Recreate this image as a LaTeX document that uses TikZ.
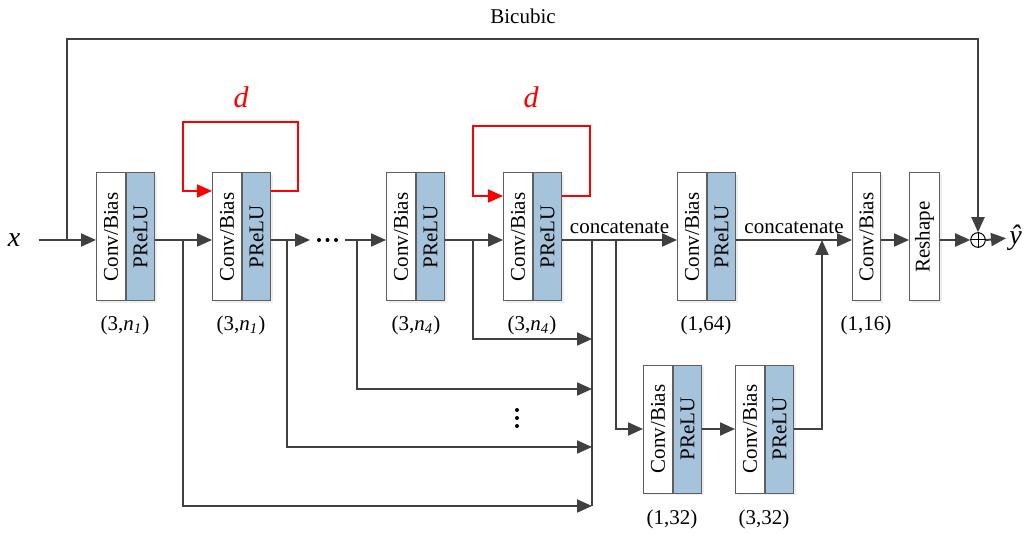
\documentclass[tikz,border=0pt]{standalone}
\usepackage{fontspec}
\setmainfont{Liberation Serif}
\usetikzlibrary{arrows.meta,shadows,calc}

\definecolor{linegray}{RGB}{64,64,64}
\definecolor{boxgray}{RGB}{95,95,95}
\definecolor{prelublue}{RGB}{166,195,220}
\definecolor{loopred}{RGB}{255,0,0}

\tikzset{
  flow/.style={draw=linegray, line width=1pt, -{Triangle[length=7.5pt,width=6.5pt]}},
  wire/.style={draw=linegray, line width=1pt},
  feedback/.style={draw=loopred, line width=0.9pt, -{Triangle[length=7.5pt,width=6.5pt]}},
  unitbox/.style={draw=boxgray, line width=0.5pt, minimum height=64pt, inner sep=0pt,
    anchor=west, drop shadow={shadow xshift=1.2pt, shadow yshift=-1.2pt, fill=black!20, opacity=0.35}},
  convbox/.style={unitbox, fill=white, minimum width=14.5pt},
  prelubox/.style={unitbox, fill=prelublue, minimum width=14pt},
  dimlabel/.style={inner sep=0pt},
  dlabel/.style={text=loopred, font=\fontsize{15}{17}\selectfont\itshape},
  ioLabel/.style={font=\fontsize{14}{16}\selectfont\itshape, inner sep=0pt},
  sumnode/.style={circle, draw=black, line width=0.5pt, minimum size=7.3pt, inner sep=0pt}
}

% Conv/Bias + PReLU unit: name, left edge, vertical centre
\newcommand{\convprelu}[3]{%
  \node[convbox] (#1w) at (#2,#3) {\rotatebox{90}{Conv/Bias}};
  \node[prelubox] (#1b) at (#1w.east) {\rotatebox{90}{PReLU}};}

\begin{document}
\begin{tikzpicture}[x=0.5pt, y=-0.5pt, font=\fontsize{10.5}{12}\selectfont]
\useasboundingbox (0,0) rectangle (1028,534);

\coordinate (row) at (0,240);

% input / output
\node[ioLabel] (xin) at (14,240) {x};
\node[ioLabel, anchor=west] (yhat) at (1009,238) {ŷ};

% processing units
\convprelu{b1}{96}{237}
\convprelu{b2}{212}{237}
\convprelu{b3}{386}{237}
\convprelu{b4}{503}{237}
\convprelu{b5}{677}{237}
\convprelu{b6}{643}{429}
\convprelu{b7}{735}{429}
\node[convbox, minimum width=14pt] (b8) at (852,237) {\rotatebox{90}{Conv/Bias}};
\node[convbox, minimum width=15pt] (b9) at (909,237) {\rotatebox{90}{Reshape}};

% summation
\node[sumnode] (sum) at (978,240) {};
\draw[line width=0.5pt] (sum.north) -- (sum.south) (sum.west) -- (sum.east);

% filter sizes
\node[dimlabel] (s1) at (125,325) {(3,\textit{n}\textsubscript{\textit{1}})};
\node[dimlabel] (s2) at (241,325) {(3,\textit{n}\textsubscript{\textit{1}})};
\node[dimlabel] (s3) at (416,325) {(3,\textit{n}\textsubscript{\textit{4}})};
\node[dimlabel] (s4) at (532,325) {(3,\textit{n}\textsubscript{\textit{4}})};
\node[dimlabel] (s5) at (706,325) {(1,64)};
\node[dimlabel] (s8) at (866,325) {(1,16)};
\node[dimlabel] (s6) at (672,519) {(1,32)};
\node[dimlabel] (s7) at (764,519) {(3,32)};

% helper points
\coordinate (tap0) at (67,240);
\coordinate (bic) at (0,39);
\coordinate (t1) at (183,240);
\coordinate (t2) at (287,240);
\coordinate (t3) at (357,240);
\coordinate (t4) at (473,240);
\coordinate (t5) at (616,240);
\coordinate (busTop) at (592,240);
\coordinate (busBot) at (592,506);
\coordinate (gapL) at (310,240);
\coordinate (gapR) at (345,240);
\coordinate (merge) at (822,240);

% bicubic skip
\node (bicLabel) at (523,16) {Bicubic};
\draw[flow] (xin.east) ++(9pt,0) -- (b1w.west|-row);
\draw[flow] (tap0) -- (tap0|-bic) -| (sum.north);

% main chain
\draw[flow] (b1b.east|-row) -- (b2w.west|-row);
\draw[flow] (b2b.east|-row) -- (gapL);
\draw[flow] (gapR) -- (b3w.west|-row);
\draw[flow] (b3b.east|-row) -- (b4w.west|-row);
\draw[flow] (b4b.east|-row) -- node[above, inner sep=2.5pt] {concatenate} (b5w.west|-row);
\draw[flow] (b5b.east|-row) -- node[above, inner sep=2.5pt] {concatenate} (b8.west|-row);
\draw[flow] (b8.east|-row) -- (b9.west|-row);
\draw[flow] (b9.east|-row) -- (sum.west);
\draw[flow, shorten >=1.5pt] (sum.east) -- (yhat.west);

% dense connections into the concatenation bus
\draw[wire] (busTop) -- (busBot);
\draw[flow] (t1) |- (busBot);
\draw[flow] (t2) |- (busBot|-0,447);
\draw[flow] (t3) |- (busBot|-0,389);
\draw[flow] (t4) |- (busBot|-0,339);

% bottleneck branch
\draw[flow] (t5) |- (b6w.west);
\draw[flow] (b6b.east) -- (b7w.west);
\draw[flow] (b7b.east) -| (merge);

% ellipses
\foreach \px in {319,327.5,336} \fill (\px,240) circle (1pt);
\foreach \py in {410,418,426} \fill (517,\py) circle (1pt);

% recursive loops
\draw[feedback] (b2b.east|-0,191) -- (298,191) -- (298,122) -- (183,122) -- (183,191) -- (b2w.west|-0,191);
\node[dlabel] (d1) at (241,97) {d};
\draw[feedback] (b4b.east|-0,196) -- (590,196) -- (590,126) -- (473,126) -- (473,196) -- (b4w.west|-0,196);
\node[dlabel] (d2) at (531,97) {d};
\end{tikzpicture}
\end{document}
